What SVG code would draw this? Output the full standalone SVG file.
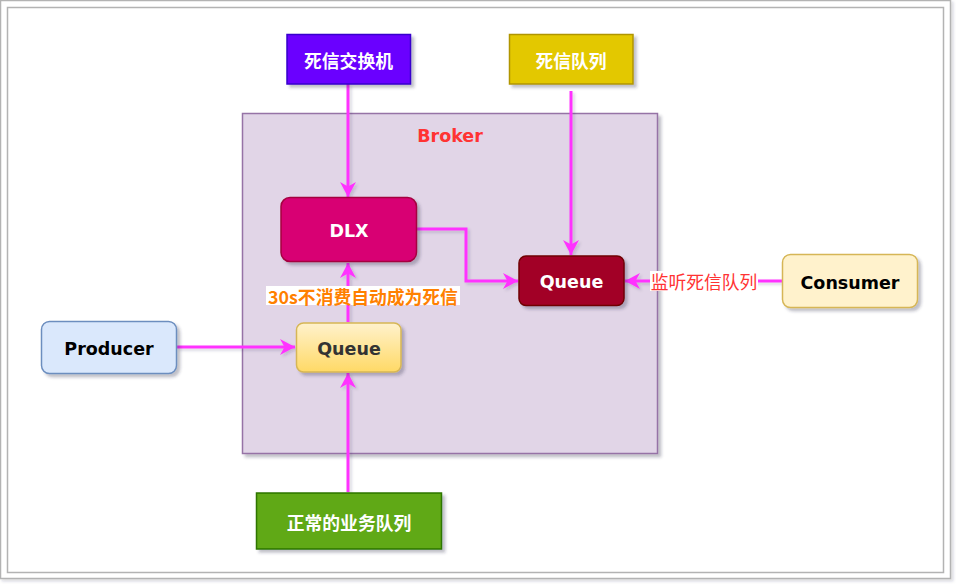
<svg xmlns="http://www.w3.org/2000/svg" width="956" height="584" viewBox="0 0 956 584">
<defs>
  <filter id="sh" x="-20%" y="-20%" width="150%" height="150%">
    <feDropShadow dx="3" dy="3" stdDeviation="1.5" flood-color="#334" flood-opacity="0.3"/>
  </filter>
  <filter id="shl" x="-20%" y="-20%" width="150%" height="150%">
    <feDropShadow dx="2" dy="2" stdDeviation="1.5" flood-color="#334" flood-opacity="0.18"/>
  </filter>
  <linearGradient id="gy" x1="0" y1="0" x2="0" y2="1">
    <stop offset="0" stop-color="#fff2cc"/>
    <stop offset="1" stop-color="#ffd966"/>
  </linearGradient>
  <marker id="arr" markerUnits="userSpaceOnUse" markerWidth="17" markerHeight="17" refX="15" refY="8" orient="auto">
    <path d="M0,0 L15,8 L0,16 L4.5,8 Z" fill="#ff33ff"/>
  </marker>
</defs>
<style>
  .t { font-family: "DejaVu Sans", "Noto Sans CJK SC", sans-serif; font-size: 17.5px; font-weight: bold; text-anchor: middle; dominant-baseline: central; }
  .cj { font-family: "Noto Sans CJK SC", "DejaVu Sans", sans-serif; font-size: 17.8px; font-weight: bold; text-anchor: middle; dominant-baseline: central; }
  .w { fill: #ffffff; }
  .e { fill: none; stroke: #ff33ff; stroke-width: 3; marker-end: url(#arr); }
</style>
<rect x="0" y="0" width="956" height="584" fill="#ffffff"/>
<g id="frame">
  <rect x="0.5" y="0.5" width="950" height="578" fill="#ffffff" stroke="#b3b3b3" stroke-width="1.5" filter="url(#shl)"/>
  <rect x="7.5" y="7.5" width="936" height="565" fill="#ffffff" stroke="#b3b3b3" stroke-width="1.5"/>
</g>
<g id="broker">
  <rect x="242.5" y="113.5" width="415" height="340" fill="#e1d5e7" stroke="#9673a6" stroke-width="1.5" filter="url(#sh)"/>
  <text class="t" x="450" y="135.5" fill="#ff3333">Broker</text>
</g>
<g id="connectors" filter="url(#shl)">
  <path class="e" d="M348,84 L348,197"/>
  <path class="e" d="M571,91 L571,255"/>
  <path class="e" d="M417,229 L466,229 L466,281 L518,281"/>
  <path class="e" d="M348,322 L348,263"/>
  <path class="e" d="M177,347 L295,347"/>
  <path class="e" d="M348,492 L348,373"/>
  <path class="e" d="M782,281 L625,281"/>
</g>
<g id="label-30s">
  <rect x="266" y="286" width="194" height="19" fill="#ffffff"/>
  <text class="cj" x="363" y="295.5" fill="#ff8000">30s不消费自动成为死信</text>
</g>
<g id="label-listen">
  <rect x="650" y="271" width="108" height="20" fill="#ffffff"/>
  <text class="cj" x="704" y="281" fill="#ff3333" style="font-weight:normal">监听死信队列</text>
</g>
<g id="dlx-exchange">
  <rect x="287" y="34.5" width="123.5" height="49.5" fill="#6a00ff" stroke="#3700cc" stroke-width="1.5" filter="url(#sh)"/>
  <text class="cj w" x="348.5" y="60">死信交换机</text>
</g>
<g id="dead-queue">
  <rect x="509.5" y="34.5" width="123.5" height="49.5" fill="#e3c800" stroke="#b09500" stroke-width="1.5" filter="url(#sh)"/>
  <text class="cj w" x="571" y="60">死信队列</text>
</g>
<g id="dlx">
  <rect x="281" y="197.5" width="135.5" height="64" rx="9" fill="#d80073" stroke="#a50040" stroke-width="1.5" filter="url(#sh)"/>
  <text class="t w" x="349" y="231">DLX</text>
</g>
<g id="queue-dead">
  <rect x="519" y="256" width="105" height="49.5" rx="7" fill="#a20025" stroke="#6f0000" stroke-width="1.5" filter="url(#sh)"/>
  <text class="t w" x="571.5" y="282">Queue</text>
</g>
<g id="queue-normal">
  <rect x="296.5" y="323" width="104.5" height="49" rx="7" fill="url(#gy)" stroke="#d6b656" stroke-width="1.5" filter="url(#sh)"/>
  <text class="t" x="349" y="349" fill="#333333">Queue</text>
</g>
<g id="producer">
  <rect x="41.5" y="321.5" width="135" height="52" rx="8" fill="#dae8fc" stroke="#6c8ebf" stroke-width="1.5" filter="url(#sh)"/>
  <text class="t" x="109" y="349" fill="#000000">Producer</text>
</g>
<g id="consumer">
  <rect x="782.5" y="254.5" width="135" height="53" rx="8" fill="#fff2cc" stroke="#d6b656" stroke-width="1.5" filter="url(#sh)"/>
  <text class="t" x="850" y="282.5" fill="#000000">Consumer</text>
</g>
<g id="normal-queue">
  <rect x="256.5" y="493" width="185" height="56" fill="#60a917" stroke="#2d7600" stroke-width="1.5" filter="url(#sh)"/>
  <text class="cj w" x="349" y="522">正常的业务队列</text>
</g>
</svg>
